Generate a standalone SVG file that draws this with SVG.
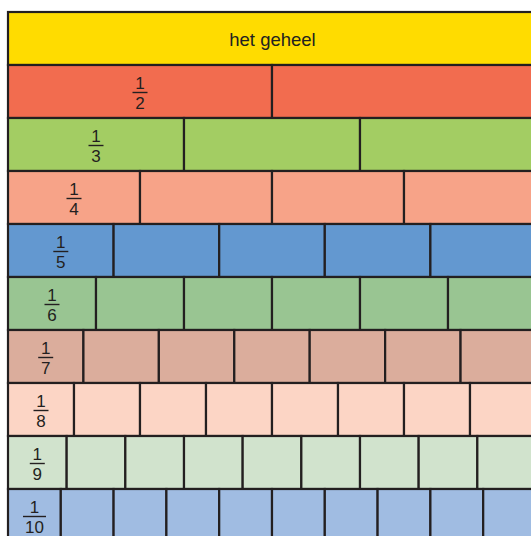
<svg xmlns="http://www.w3.org/2000/svg" width="531" height="536" viewBox="0 0 531 536">
<style>
rect{stroke:#231f20;stroke-width:2.2}
text{font-family:"Liberation Sans",Arial,sans-serif;font-size:17px;fill:#231f20;text-anchor:middle}
.title{font-size:18.5px}
.bar{stroke:#231f20;stroke-width:1.4}
.r1{fill:#ffdc00}.r2{fill:#f26c4f}.r3{fill:#a3cd63}.r4{fill:#f7a388}.r5{fill:#6398d0}
.r6{fill:#99c592}.r7{fill:#dbad9c}.r8{fill:#fcd5c5}.r9{fill:#d1e3cd}.r10{fill:#a0bce2}
</style>
<rect x="0" y="0" width="531" height="536" fill="#fff" style="stroke:none"/>
<g id="row1"><rect class="r1" x="8" y="12" width="528" height="53"/><text class="title" x="272.5" y="46">het geheel</text></g>
<g id="row2"><rect class="r2" x="8" y="65" width="264" height="53"/><rect class="r2" x="272" y="65" width="264" height="53"/>
<text x="140" y="89">1</text><line class="bar" x1="132.5" y1="92.5" x2="147.5" y2="92.5"/><text x="140" y="108.5">2</text></g>
<g id="row3"><rect class="r3" x="8" y="118" width="176" height="53"/><rect class="r3" x="184" y="118" width="176" height="53"/><rect class="r3" x="360" y="118" width="176" height="53"/>
<text x="96" y="142">1</text><line class="bar" x1="88.5" y1="145.5" x2="103.5" y2="145.5"/><text x="96" y="161.5">3</text></g>
<g id="row4"><rect class="r4" x="8" y="171" width="132" height="53"/><rect class="r4" x="140" y="171" width="132" height="53"/><rect class="r4" x="272" y="171" width="132" height="53"/><rect class="r4" x="404" y="171" width="132" height="53"/>
<text x="74" y="195">1</text><line class="bar" x1="66.5" y1="198.5" x2="81.5" y2="198.5"/><text x="74" y="214.5">4</text></g>
<g id="row5"><rect class="r5" x="8" y="224" width="105.6" height="53"/><rect class="r5" x="113.6" y="224" width="105.6" height="53"/><rect class="r5" x="219.2" y="224" width="105.6" height="53"/><rect class="r5" x="324.8" y="224" width="105.6" height="53"/><rect class="r5" x="430.4" y="224" width="105.6" height="53"/>
<text x="60.8" y="248">1</text><line class="bar" x1="53.3" y1="251.5" x2="68.3" y2="251.5"/><text x="60.8" y="267.5">5</text></g>
<g id="row6"><rect class="r6" x="8" y="277" width="88" height="53"/><rect class="r6" x="96" y="277" width="88" height="53"/><rect class="r6" x="184" y="277" width="88" height="53"/><rect class="r6" x="272" y="277" width="88" height="53"/><rect class="r6" x="360" y="277" width="88" height="53"/><rect class="r6" x="448" y="277" width="88" height="53"/>
<text x="52" y="301">1</text><line class="bar" x1="44.5" y1="304.5" x2="59.5" y2="304.5"/><text x="52" y="320.5">6</text></g>
<g id="row7"><rect class="r7" x="8" y="330" width="75.43" height="53"/><rect class="r7" x="83.43" y="330" width="75.43" height="53"/><rect class="r7" x="158.86" y="330" width="75.43" height="53"/><rect class="r7" x="234.29" y="330" width="75.43" height="53"/><rect class="r7" x="309.71" y="330" width="75.43" height="53"/><rect class="r7" x="385.14" y="330" width="75.43" height="53"/><rect class="r7" x="460.57" y="330" width="75.43" height="53"/>
<text x="45.7" y="354">1</text><line class="bar" x1="38.2" y1="357.5" x2="53.2" y2="357.5"/><text x="45.7" y="373.5">7</text></g>
<g id="row8"><rect class="r8" x="8" y="383" width="66" height="53"/><rect class="r8" x="74" y="383" width="66" height="53"/><rect class="r8" x="140" y="383" width="66" height="53"/><rect class="r8" x="206" y="383" width="66" height="53"/><rect class="r8" x="272" y="383" width="66" height="53"/><rect class="r8" x="338" y="383" width="66" height="53"/><rect class="r8" x="404" y="383" width="66" height="53"/><rect class="r8" x="470" y="383" width="66" height="53"/>
<text x="41" y="407">1</text><line class="bar" x1="33.5" y1="410.5" x2="48.5" y2="410.5"/><text x="41" y="426.5">8</text></g>
<g id="row9"><rect class="r9" x="8" y="436" width="58.67" height="53"/><rect class="r9" x="66.67" y="436" width="58.67" height="53"/><rect class="r9" x="125.33" y="436" width="58.67" height="53"/><rect class="r9" x="184" y="436" width="58.67" height="53"/><rect class="r9" x="242.67" y="436" width="58.67" height="53"/><rect class="r9" x="301.33" y="436" width="58.67" height="53"/><rect class="r9" x="360" y="436" width="58.67" height="53"/><rect class="r9" x="418.67" y="436" width="58.67" height="53"/><rect class="r9" x="477.33" y="436" width="58.67" height="53"/>
<text x="37.3" y="460">1</text><line class="bar" x1="29.8" y1="463.5" x2="44.8" y2="463.5"/><text x="37.3" y="479.5">9</text></g>
<g id="row10"><rect class="r10" x="8" y="489" width="52.8" height="53"/><rect class="r10" x="60.8" y="489" width="52.8" height="53"/><rect class="r10" x="113.6" y="489" width="52.8" height="53"/><rect class="r10" x="166.4" y="489" width="52.8" height="53"/><rect class="r10" x="219.2" y="489" width="52.8" height="53"/><rect class="r10" x="272" y="489" width="52.8" height="53"/><rect class="r10" x="324.8" y="489" width="52.8" height="53"/><rect class="r10" x="377.6" y="489" width="52.8" height="53"/><rect class="r10" x="430.4" y="489" width="52.8" height="53"/><rect class="r10" x="483.2" y="489" width="52.8" height="53"/>
<text x="34.4" y="513">1</text><line class="bar" x1="23" y1="516.5" x2="46" y2="516.5"/><text x="34.4" y="532.5">10</text></g>
</svg>
